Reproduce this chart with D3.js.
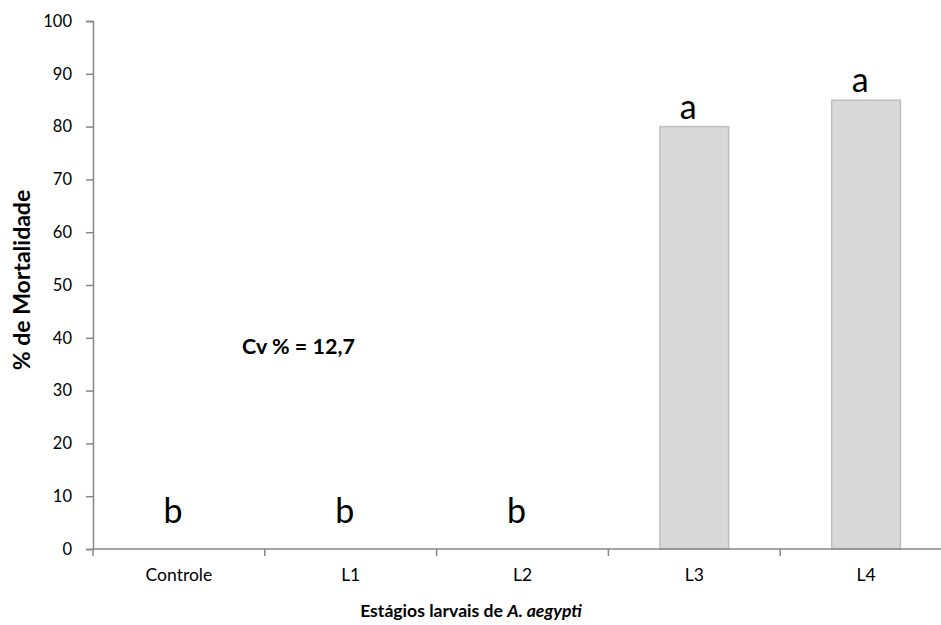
<!DOCTYPE html>
<html>
<head>
<meta charset="utf-8">
<script src="https://cdn.jsdelivr.net/npm/d3@7"></script>
<style>
  html, body { margin: 0; padding: 0; background: #fff; }
  svg { display: block; }
  text { font-family: Lato, "Open Sans", sans-serif; fill: #000; }
</style>
</head>
<body>
<svg id="chart" width="941" height="625"></svg>
<script>
const categories = ["Controle", "L1", "L2", "L3", "L4"];
const mortality = [0, 0, 0, 80, 85];
const letters = ["b", "b", "b", "a", "a"];
const yTicks = [0, 10, 20, 30, 40, 50, 60, 70, 80, 90, 100];
const cvLabel = "Cv % = 12,7";
const yTitle = "% de Mortalidade";
const xTitle = "Estágios larvais de ";
const xTitleItalic = "A. aegypti";

(function () {
const svg = d3.select("#chart");
const mLeft = 93, mBottom = 549, mTop = 21, mRight = 952;

const xb = d3.scaleBand().domain(categories).range([mLeft, mRight]);
const y = d3.scaleLinear().domain([0, 100]).range([mBottom, mTop]);

const axisColor = "#868686";

// bars
svg.append("g").selectAll("rect").data(categories).join("rect")
  .attr("x", (d) => xb(d) + xb.bandwidth() * 0.3)
  .attr("width", xb.bandwidth() * 0.4)
  .attr("y", (d, i) => y(mortality[i]))
  .attr("height", (d, i) => y(0) - y(mortality[i]))
  .attr("fill", "#d9d9d9")
  .attr("stroke", "#bfbfbf")
  .attr("stroke-width", 1.5)
  .style("display", (d, i) => mortality[i] > 0 ? null : "none");

// y axis
const yAxis = svg.append("g").attr("transform", `translate(${mLeft},0)`)
  .call(d3.axisLeft(y).tickValues(yTicks).tickSize(7).tickPadding(14));
yAxis.select(".domain").attr("stroke", axisColor).attr("stroke-width", 1.5);
yAxis.selectAll(".tick line").attr("stroke", axisColor).attr("stroke-width", 1.5);
yAxis.selectAll(".tick text").style("font-family", "Lato, sans-serif").style("font-size", "16.5px").attr("fill", "#000");

// x axis (boundary ticks)
const xAxisG = svg.append("g").attr("transform", `translate(0,${mBottom})`);
xAxisG.append("line").attr("x1", mLeft).attr("x2", mRight).attr("stroke", axisColor).attr("stroke-width", 1.5);
const boundaries = categories.map((c) => xb(c));
xAxisG.selectAll("line.tk").data(boundaries).join("line").attr("class", "tk")
  .attr("x1", (d) => d).attr("x2", (d) => d).attr("y1", 0).attr("y2", 7)
  .attr("stroke", axisColor).attr("stroke-width", 1.5);
xAxisG.selectAll("text").data(categories).join("text")
  .attr("x", (d) => xb(d) + xb.bandwidth() / 2)
  .attr("y", 32)
  .attr("text-anchor", "middle")
  .style("font-size", "17.5px")
  .text((d) => d);

// significance letters
svg.append("g").selectAll("text").data(categories).join("text")
  .attr("x", (d) => xb(d) + xb.bandwidth() / 2 - 6)
  .attr("y", (d, i) => y(mortality[i]) - (mortality[i] > 0 ? 8 : 26))
  .attr("text-anchor", "middle")
  .style("font-size", "34px")
  .text((d, i) => letters[i]);

// Cv label
svg.append("text").attr("x", 242).attr("y", 354)
  .style("font-size", "21.5px").style("font-weight", "bold")
  .text(cvLabel);

// axis titles
svg.append("text")
  .attr("transform", `translate(30,280) rotate(-90)`)
  .attr("text-anchor", "middle")
  .style("font-size", "23px").style("font-weight", "bold")
  .text(yTitle);

const xt = svg.append("text")
  .attr("x", 471).attr("y", 617)
  .attr("text-anchor", "middle")
  .style("font-size", "17.6px").style("font-weight", "bold");
xt.append("tspan").text(xTitle);
xt.append("tspan").style("font-style", "italic").text(xTitleItalic);
})();
</script>
</body>
</html>
